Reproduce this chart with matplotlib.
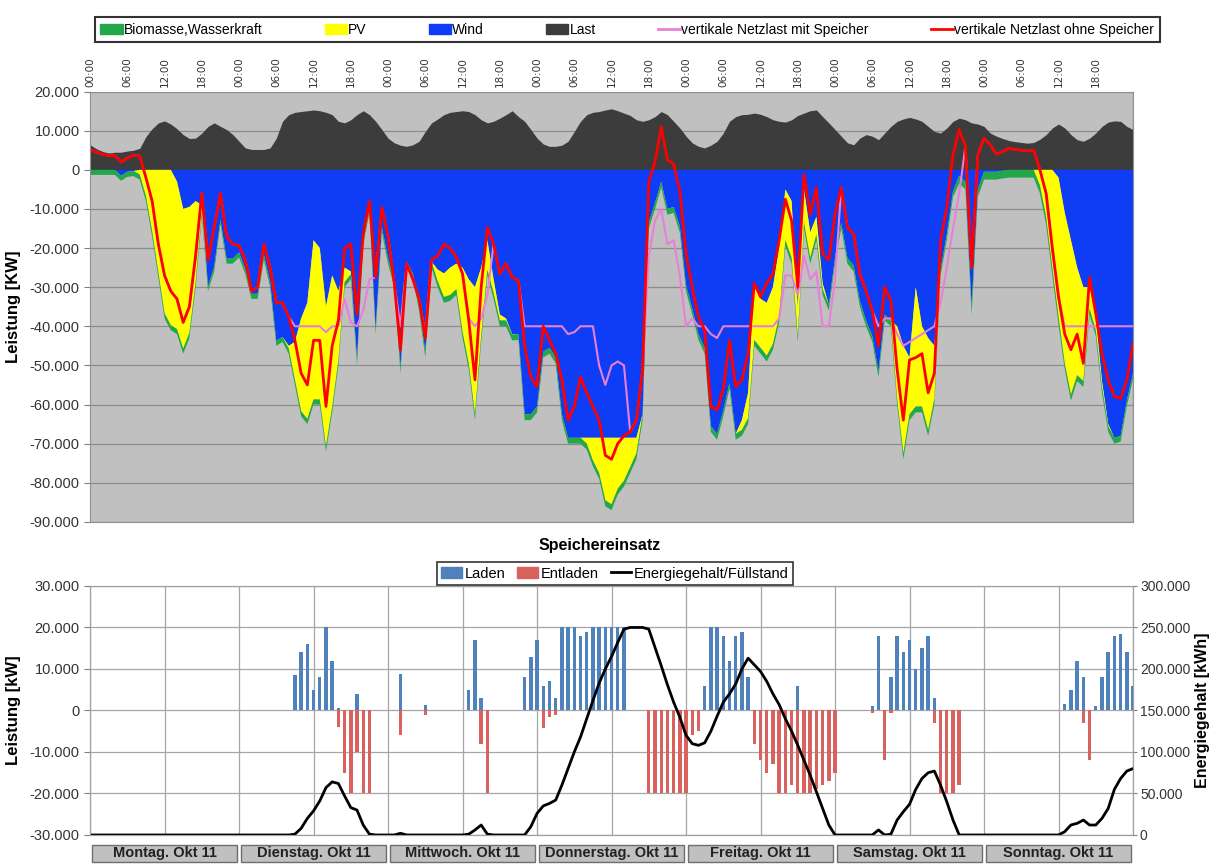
import numpy as np
import matplotlib
matplotlib.use("Agg")
import matplotlib.pyplot as plt
import matplotlib.transforms as mtransforms
from matplotlib.patches import Patch, Rectangle
from matplotlib.lines import Line2D
from matplotlib.ticker import FuncFormatter

plt.rcParams['font.family'] = ['Liberation Sans', 'DejaVu Sans']

# Stundenwerte ab Montag 00:00 (169 Werte), Leistung in 1000 kW, Energie in 1000 kWh
last = [6.4, 5.4, 4.7, 4.3, 4.5, 4.5, 4.8, 5.0, 5.5, 8.5, 10.5, 12.0, 12.5, 11.7, 10.5, 9.0, 8.0, 8.1, 9.4, 11.1, 12.0, 11.1, 10.3, 9.0,
        7.3, 5.6, 5.2, 5.2, 5.2, 5.6, 8.1, 12.4, 14.1, 14.7, 14.9, 15.1, 15.3, 15.1, 14.7, 14.1, 12.4, 12.0, 12.8, 14.1, 15.1, 14.1, 12.4, 10.3,
        8.1, 6.9, 6.3, 6.0, 6.4, 7.3, 9.8, 12.0, 13.0, 14.1, 14.7, 14.9, 15.1, 14.9, 14.1, 12.8, 12.0, 12.4, 13.2, 14.1, 15.1, 13.6, 12.4, 10.3,
        8.1, 6.6, 6.0, 6.0, 6.3, 7.3, 9.8, 12.4, 14.1, 14.7, 14.9, 15.3, 15.6, 15.1, 14.5, 13.9, 12.8, 12.4, 12.8, 13.6, 14.9, 14.1, 12.4, 10.7,
        8.6, 6.9, 6.0, 5.6, 6.3, 7.3, 9.4, 12.4, 13.6, 14.1, 14.2, 14.5, 14.2, 13.6, 12.8, 12.4, 12.2, 12.8, 13.9, 14.5, 15.1, 15.3, 13.6, 12.0,
        10.3, 8.6, 6.9, 6.4, 8.1, 9.0, 8.6, 7.7, 9.4, 11.1, 12.4, 13.0, 13.4, 13.0, 12.4, 11.1, 9.8, 9.4, 10.7, 12.4, 13.2, 12.8, 12.0, 11.7,
        11.1, 9.4, 8.6, 8.0, 7.5, 7.2, 7.0, 6.8, 7.0, 7.8, 9.0, 10.7, 11.7, 10.7, 9.0, 7.7, 7.3, 8.1, 9.4, 11.1, 12.2, 12.5, 12.4, 11.1,
        10.3]

wind = [0, 0, 0, 0, 0, 1.5, 0.5, 0.3, 0, 0, 0, 0, 0, 0, 3, 10, 9.5, 8, 9, 29.7, 24.7, 12.7, 22.7, 22.7,
        21.1, 25.3, 31.7, 31.7, 21.7, 28.7, 43.7, 42.7, 45, 44, 38, 34, 18, 20, 35, 27, 31, 25, 26, 48.5, 17.7, 9.7, 40.7, 14.7,
        22.5, 28.5, 50.5, 23.5, 26.5, 34.5, 46.5, 23.5, 25.5, 26.5, 25, 24, 25, 28, 30, 25, 18, 28, 37, 38, 42, 42, 62.5, 62.5,
        60.5, 46.5, 45.5, 48, 62.5, 68.5, 68.5, 68.5, 68.5, 68.5, 68.5, 68.5, 68.5, 68.5, 68.5, 68.5, 68.5, 62.5, 13.5, 8.5, 3, 10, 9.5, 14.5,
        29.5, 35.5, 42, 45.5, 65.5, 67.5, 61.5, 54.5, 67.5, 64, 57, 29, 33, 34, 30, 20, 5, 8, 35, 5, 16, 12, 29, 34.5,
        22.5, 13.5, 22.5, 24.5, 33.5, 38.5, 42.5, 51.5, 37, 38.5, 40, 45, 48, 30, 40, 43, 45, 25.5, 16.5, 5.5, 1.5, 3, 35, 5,
        0.5, 0.5, 0.5, 0.2, 0, 0, 0, 0, 0, 0, 0, 0, 2, 11, 18, 25, 30, 30, 38, 54, 65, 68.5, 68, 59,
        52]

pv = [0, 0, 0, 0, 0, 0, 0, 0, 1.2, 6.7, 15.7, 26.2, 36.7, 39.7, 37.7, 35.7, 32.2, 20.7, 1.7, 0, 0, 0, 0, 0,
      0, 0, 0, 0, 0, 0, 0, 0, 0.7, 9.7, 23.7, 29.7, 40.7, 38.7, 35.7, 33.7, 17.7, 3.7, 0.7, 0.2, 0, 0, 0, 0,
      0, 0, 0, 0, 0, 0, 0, 0, 3, 6, 7, 6.5, 16.5, 21.5, 32.5, 17.5, 7.5, 3.5, 1.5, 0.5, 0.1, 0, 0, 0,
      0, 0, 0, 0, 0, 0, 0, 0, 1.5, 5.8, 9, 16, 17, 13, 11, 7.5, 4, 0, 0, 0, 0, 0, 0, 0,
      0, 0, 0, 0, 0, 0, 0, 0, 0, 2.5, 6.5, 14.5, 12.5, 13.5, 14.5, 17.5, 13, 14.5, 7.5, 8.5, 6.5, 4.5, 1.5, 0,
      0, 0, 0, 0, 0, 0, 0, 0, 0, 0, 18.5, 27.5, 14.5, 30.5, 20.5, 23.5, 13.5, 0, 0, 0, 0, 0, 0, 0,
      0, 0, 0, 0, 0, 0, 0, 0, 0, 4, 12, 25, 35.5, 38.5, 39.5, 27.5, 24, 5.5, 3, 1.5, 0.5, 0, 0, 0,
      0]

bio = [1.3, 1.3, 1.3, 1.3, 1.3, 1.3, 1.3, 1.3, 1.3, 1.3, 1.3, 1.3, 1.3, 1.3, 1.3, 1.3, 1.3, 1.3, 1.3, 1.3, 1.3, 1.3, 1.3, 1.3,
       1.3, 1.3, 1.3, 1.3, 1.3, 1.3, 1.3, 1.3, 1.3, 1.3, 1.3, 1.3, 1.3, 1.3, 1.3, 1.3, 1.3, 1.3, 1.3, 1.3, 1.3, 1.3, 1.3, 1.3,
       1.5, 1.5, 1.5, 1.5, 1.5, 1.5, 1.5, 1.5, 1.5, 1.5, 1.5, 1.5, 1.5, 1.5, 1.5, 1.5, 1.5, 1.5, 1.5, 1.5, 1.5, 1.5, 1.5, 1.5,
       1.5, 1.5, 1.5, 1.5, 1.5, 1.5, 1.5, 1.5, 1.5, 1.5, 1.5, 1.5, 1.5, 1.5, 1.5, 1.5, 1.5, 1.5, 1.5, 1.5, 1.5, 1.5, 1.5, 1.5,
       1.5, 1.5, 1.5, 1.5, 1.5, 1.5, 1.5, 1.5, 1.5, 1.5, 1.5, 1.5, 1.5, 1.5, 1.5, 1.5, 1.5, 1.5, 1.5, 1.5, 1.5, 1.5, 1.5, 1.5,
       1.5, 1.5, 1.5, 1.5, 1.5, 1.5, 1.5, 1.5, 1.5, 1.5, 1.5, 1.5, 1.5, 1.5, 1.5, 1.5, 1.5, 1.5, 1.5, 1.5, 2.0, 2.0, 2.0, 2.0,
       2.0, 2.0, 2.0, 2.0, 2.0, 2.0, 2.0, 2.0, 2.0, 2.0, 2.0, 2.0, 2.0, 1.5, 1.5, 1.5, 1.5, 1.5, 1.5, 1.5, 1.5, 1.5, 1.5, 1.5,
       1.5]

netz_ohne = [5.2, 4.6, 3.9, 3.7, 3.6, 2.0, 3.0, 3.8, 3.5, -2, -8, -19, -27, -31, -33, -39, -35, -22, -6, -23, -14.7, -6, -17, -19,
             -19.4, -23, -31, -30, -19, -25, -34, -34, -37.6, -43.6, -52, -55, -43.6, -43.6, -60.5, -45, -38.5, -20, -19, -37, -16.4, -8, -27.5, -9.7,
             -17, -29, -46, -24, -28, -33, -43, -23, -22, -19, -20, -22.4, -26.6, -38.5, -53.7, -30, -14.7, -19, -26.6, -24, -27.5, -28.3, -45, -53,
             -55.4, -40, -43.6, -47, -53.7, -64, -60.5, -53, -57, -60.5, -64, -73, -74, -70, -68, -67, -64, -51, -3, 2, 11, 2.6, 1.4, -5.4,
             -21.5, -30, -37.6, -41, -60.5, -61.4, -56, -43.6, -55.4, -53.7, -47, -29, -32.5, -29, -26.6, -18, -7.5, -13, -30, -1.2, -11.4, -4.6, -21.5, -23,
             -11.4, -4.6, -14.7, -16.4, -26.6, -31, -36, -45, -30, -33.4, -51, -64, -48.6, -48, -47, -57, -52, -18, -9.7, 3.9, 10.3, 6, -25, 3.9,
             8, 6.4, 4, 4.7, 5.5, 5.2, 5.0, 4.8, 5.0, 0, -6, -20, -32.5, -42, -46, -42, -49.5, -27.5, -36.8, -47, -53.7, -58, -58.4, -53.7,
             -44.4]

netz_mit = [5.2, 4.6, 3.9, 3.7, 3.6, 2.0, 3.0, 3.8, 3.5, -2, -8, -19, -27, -31, -33, -39, -35, -22, -6, -23, -14.7, -6, -17, -19,
            -19.4, -23, -31, -30, -19, -25, -34, -34, -37.6, -40, -40, -40, -40, -40, -41.5, -40, -40, -33, -39, -40, -36, -28, -27.5, -9.7,
            -17, -29, -40, -24, -28, -33, -42, -23, -22, -19, -20, -22.4, -26.6, -38, -40, -38, -32, -19, -26.6, -24, -27.5, -28.3, -40, -40,
            -40, -40, -40, -40, -40, -42, -41.5, -40, -40, -40, -50, -55, -50, -49, -50, -67, -64, -51, -22, -13, -10, -19, -18, -27,
            -40, -38, -40, -40, -42, -43, -40, -40, -40, -40, -40, -40, -40, -40, -40, -38, -27, -27, -32, -22, -28, -26, -40, -40,
            -28, -4.6, -14.7, -16.4, -26.6, -31, -36, -40, -38, -38, -42, -45, -44, -43, -42, -41, -40, -34, -25, -15, -6, 6, -25, 3.9,
            8, 6.4, 4, 4.7, 5.5, 5.2, 5.0, 4.8, 5.0, 0, -6, -20, -32.5, -40, -40, -40, -40, -40, -40, -40, -40, -40, -40, -40,
            -40]

laden = [0, 0, 0, 0, 0, 0, 0, 0, 0, 0, 0, 0, 0, 0, 0, 0, 0, 0, 0, 0, 0, 0, 0, 0,
         0, 0, 0, 0, 0, 0, 0, 0, 0, 8.5, 14, 16, 5, 8, 20, 12, 0.5, 0, 0, 4, 0, 0, 0, 0,
         0, 0, 8.7, 0, 0, 0, 1.4, 0, 0, 0, 0, 0, 0, 5, 17, 3, 0, 0, 0, 0, 0, 0, 8, 13,
         17, 6, 7, 3, 20, 20, 20, 18, 19, 20, 20, 20, 20, 20, 20, 0, 0, 0, 0, 0, 0, 0, 0, 0,
         0, 0, 0, 6, 20, 20, 18, 12, 18, 19, 8, 0, 0, 0, 0, 0, 0, 0, 6, 0, 0, 0, 0, 0,
         0, 0, 0, 0, 0, 0, 1, 18, 0, 8, 18, 14, 17, 10, 15, 18, 3, 0, 0, 0, 0, 0, 0, 0,
         0, 0, 0, 0, 0, 0, 0, 0, 0, 0, 0, 0, 0, 1.5, 5, 12, 8, 0, 1, 8, 14, 18, 18.5, 14,
         6]

entladen = [0, 0, 0, 0, 0, 0, 0, 0, 0, 0, 0, 0, 0, 0, 0, 0, 0, 0, 0, 0, 0, 0, 0, 0,
            0, 0, 0, 0, 0, 0, 0, 0, 0, 0, 0, 0, 0, 0, 0, 0, -4, -15, -20, -10, -20, -20, 0, 0,
            0, 0, -5.9, 0, 0, 0, -1.2, 0, 0, 0, 0, 0, 0, 0, 0, -8, -20, 0, 0, 0, 0, 0, 0, 0,
            0, -4.2, -1.5, -1, 0, 0, 0, 0, 0, 0, 0, 0, 0, 0, 0, 0, 0, 0, -20, -20, -20, -20, -20, -20,
            -20, -6, -5, 0, 0, 0, 0, 0, 0, 0, 0, -8, -12, -15, -13, -20, -20, -18, -20, -20, -20, -19, -18, -17,
            -15, 0, 0, 0, 0, 0, -0.5, 0, -12, -0.5, 0, 0, 0, 0, 0, 0, -3, -20, -20, -20, -18, 0, 0, 0,
            0, 0, 0, 0, 0, 0, 0, 0, 0, 0, 0, 0, 0, 0, 0, 0, -3, -12, 0, 0, 0, 0, 0, 0,
            0]

energie = [0, 0, 0, 0, 0, 0, 0, 0, 0, 0, 0, 0, 0, 0, 0, 0, 0, 0, 0, 0, 0, 0, 0, 0,
           0, 0, 0, 0, 0, 0, 0, 0, 0, 1, 8, 20, 29, 41, 57, 64, 62, 47, 33, 30, 12, 1, 0, 0,
           0, 0, 2, 0, 0, 0, 0, 0, 0, 0, 0, 0, 0, 1, 6, 12, 1, 0, 0, 0, 0, 0, 0, 10,
           26, 35, 38, 42, 60, 80, 100, 118, 140, 162, 183, 200, 215, 232, 248, 250, 250, 250, 248, 226, 204, 181, 160, 142,
           120, 110, 108, 111, 125, 143, 160, 170, 182, 200, 213, 205, 197, 185, 170, 157, 140, 125, 108, 90, 72, 52, 32, 12,
           0, 0, 0, 0, 0, 0, 0, 6, 0, 1, 18, 28, 37, 55, 68, 75, 77, 60, 40, 18, 0, 0, 0, 0,
           0, 0, 0, 0, 0, 0, 0, 0, 0, 0, 0, 0, 0, 4, 12, 14, 18, 12, 12, 20, 32, 55, 68, 77,
           80]

tage = ["Montag. Okt 11", "Dienstag. Okt 11", "Mittwoch. Okt 11", "Donnerstag. Okt 11",
        "Freitag. Okt 11", "Samstag. Okt 11", "Sonntag. Okt 11"]
uhrzeiten = ["00:00", "06:00", "12:00", "18:00"]

stunden = np.arange(len(last))


def tausender(v, pos):
    return f"{v * 1000:,.0f}".replace(",", ".")


fig = plt.figure(figsize=(12.17, 8.64), dpi=100)

# --- oberes Diagramm: Erzeugung, Last, Netzlast ---
ax1 = fig.add_axes([0.074, 0.396, 0.857, 0.498])
ax1.set_facecolor('#C0C0C0')
ax1.set_axisbelow(True)

ax1.fill_between(stunden, 0, last, color='#3C3C3C', lw=0)
ax1.stackplot(stunden, -np.array(wind), -np.array(pv), -np.array(bio),
              colors=['#0F3CF5', '#FFFF00', '#22A84A'], lw=0)
ax1.plot(stunden, netz_mit, color='#E87FD8', lw=1.5)
ax1.plot(stunden, netz_ohne, color='#FF0000', lw=2)

ax1.set_xlim(0, 168)
ax1.set_ylim(-90, 20)
ax1.set_yticks(np.arange(-90, 21, 10))
ax1.yaxis.set_major_formatter(FuncFormatter(tausender))
ax1.tick_params(axis='y', labelsize=10.5, labelcolor='#333333', color='#808080', length=4)

xt = np.arange(0, 168, 6)
ax1.set_xticks(xt)
ax1.set_xticklabels([uhrzeiten[(t // 6) % 4] for t in xt], family=['DejaVu Sans'])
ax1.set_xticks(np.arange(0, 169, 12), minor=True)
ax1.xaxis.tick_top()
ax1.tick_params(axis='x', which='both', length=0, labelsize=7.5, rotation=90, pad=3, labelcolor='#333333')
ax1.grid(axis='x', which='minor', color='#8C8C8C', lw=0.9)
ax1.grid(axis='y', which='major', color='#8C8C8C', lw=0.9)
for s in ax1.spines.values():
    s.set_color('#909090')
ax1.set_ylabel("Leistung [KW]", fontsize=12, fontweight='bold', labelpad=6)

handles = [Patch(color='#22A84A'), Patch(color='#FFFF00'), Patch(color='#0F3CF5'), Patch(color='#3C3C3C'),
           Line2D([], [], color='#E87FD8', lw=2), Line2D([], [], color='#FF0000', lw=2)]
names = ["Biomasse,Wasserkraft", "PV", "Wind", "Last",
         "vertikale Netzlast mit Speicher", "vertikale Netzlast ohne Speicher"]
leg = fig.legend(handles, names, loc='lower left', bbox_to_anchor=(0.078, 0.951, 0.875, 0.035),
                 mode='expand', ncol=6, fancybox=False, edgecolor='black', fontsize=10,
                 handlelength=1.6, handletextpad=0.1, borderaxespad=0, borderpad=0.4)
leg.get_frame().set_linewidth(1.5)

# --- unteres Diagramm: Speichereinsatz ---
ax2 = fig.add_axes([0.074, 0.0336, 0.857, 0.2882])
ax2.set_axisbelow(True)
ax2.bar(stunden, laden, width=0.55, color='#4F81BD', lw=0)
ax2.bar(stunden, entladen, width=0.55, color='#D9625F', lw=0)
ax2.set_xlim(0, 168)
ax2.set_ylim(-30, 30)
ax2.set_yticks(np.arange(-30, 31, 10))
ax2.yaxis.set_major_formatter(FuncFormatter(tausender))
ax2.set_xticks([])
ax2.set_xticks(np.arange(0, 169, 12), minor=True)
ax2.tick_params(axis='x', which='both', length=0, labelbottom=False)
ax2.tick_params(axis='y', labelsize=10.5, labelcolor='#333333', color='#808080', length=4)
ax2.grid(axis='x', which='minor', color='#A6A6A6', lw=0.9)
ax2.grid(axis='y', which='major', color='#A6A6A6', lw=0.9)
for s in ax2.spines.values():
    s.set_color('#A0A0A0')
ax2.set_ylabel("Leistung [kW]", fontsize=12, fontweight='bold', labelpad=6)

ax3 = ax2.twinx()
ax3.plot(stunden, energie, color='black', lw=2)
ax3.set_ylim(0, 300)
ax3.set_yticks(np.arange(0, 301, 50))
ax3.yaxis.set_major_formatter(FuncFormatter(tausender))
ax3.tick_params(axis='y', labelsize=10, labelcolor='#333333', color='#808080', length=3, pad=2)
for s in ax3.spines.values():
    s.set_color('#A0A0A0')
ax3.set_ylabel("Energiegehalt [kWh]", fontsize=11.5, fontweight='bold', labelpad=3)

trans = mtransforms.blended_transform_factory(ax2.transData, ax2.transAxes)
for i, tag in enumerate(tage):
    ax2.add_patch(Rectangle((i * 24 + 0.3, -0.108), 23.4, 0.068, transform=trans,
                            facecolor='#C0C0C0', edgecolor='#6E6E6E', lw=1, clip_on=False))
    ax2.text(i * 24 + 12, -0.074, tag, transform=trans, ha='center', va='center',
             fontsize=10.5, fontweight='bold', color='#222222')

fig.text(0.493, 0.369, "Speichereinsatz", ha='center', va='center', fontsize=11.5, fontweight='bold')
handles2 = [Patch(color='#4F81BD'), Patch(color='#D9625F'), Line2D([], [], color='black', lw=2)]
leg2 = fig.legend(handles2, ["Laden", "Entladen", "Energiegehalt/Füllstand"], loc='lower left',
                  bbox_to_anchor=(0.359, 0.323, 0.293, 0.031), mode='expand', ncol=3,
                  fancybox=False, edgecolor='black', fontsize=10.5, handlelength=1.4,
                  handletextpad=0.2, borderaxespad=0, borderpad=0.3)
leg2.get_frame().set_linewidth(1.2)

fig.savefig("out.png", dpi=100)
